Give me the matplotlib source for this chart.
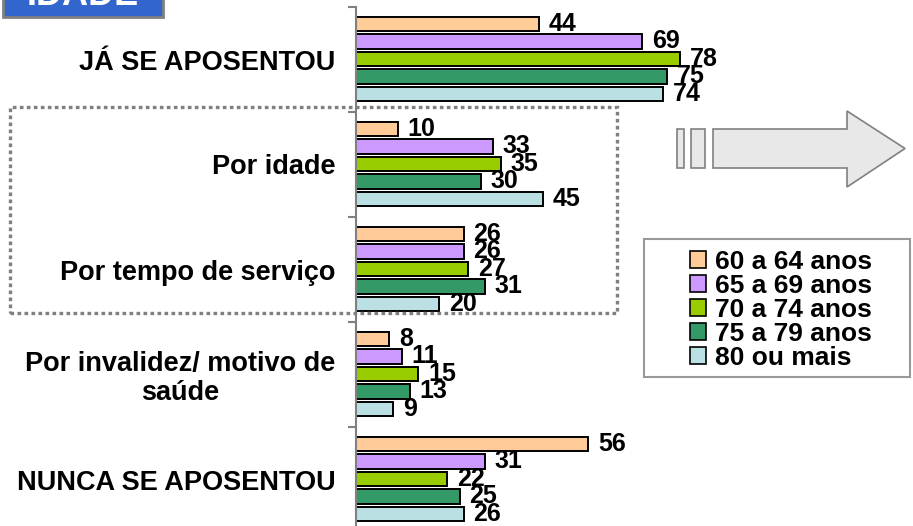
import numpy as np
import matplotlib
matplotlib.use("Agg")
import matplotlib.pyplot as plt
from matplotlib.patches import Rectangle, Polygon, Patch

plt.rcParams['font.family'] = ['Liberation Sans', 'DejaVu Sans']
plt.rcParams['font.weight'] = 'bold'

# categories (top to bottom) and age groups
categorias = ['JÁ SE APOSENTOU', 'Por idade', 'Por tempo de serviço',
              'Por invalidez/ motivo de\nsaúde', 'NUNCA SE APOSENTOU']
faixas = ['60 a 64 anos', '65 a 69 anos', '70 a 74 anos', '75 a 79 anos', '80 ou mais']
cores = ['#FFCC99', '#CC99FF', '#99CC00', '#339966', '#BBE0E3']

s60 = [44, 10, 26, 8, 56]
s65 = [69, 33, 26, 11, 31]
s70 = [78, 35, 27, 15, 22]
s75 = [75, 30, 31, 13, 25]
s80 = [74, 45, 20, 9, 26]
series = [s60, s65, s70, s75, s80]

W, H = 913, 526
fig = plt.figure(figsize=(W / 100, H / 100), dpi=100)

# axes: zero line at x=356px, 100 units = 415px; top at 7px, 5 groups of 105px
ax = fig.add_axes([356 / W, 1 - 532 / H, 415 / W, 525 / H])
ax.set_xlim(0, 100)
ax.set_ylim(5, 0)

y = np.arange(len(categorias))
passo = 0.1667
for k, (vals, cor) in enumerate(zip(series, cores)):
    yy = y + 0.495 + (k - 2) * passo
    ax.barh(yy, vals, height=0.135, color=cor, edgecolor='black', linewidth=1.4)
    for yi, v in zip(yy, vals):
        ax.annotate(str(v), (v, yi), xytext=(7, 0), textcoords='offset points',
                    ha='left', va='center', fontsize=18, fontweight='bold')

for s in ['top', 'right', 'bottom']:
    ax.spines[s].set_visible(False)
ax.spines['left'].set_color('#808080')
ax.spines['left'].set_linewidth(1.5)
ax.set_xticks([])
ax.set_yticks(y + 0.5)
ax.set_yticklabels(categorias, fontsize=19.5, fontweight='bold', multialignment='center',
                   linespacing=1.15)
ax.tick_params(axis='y', which='major', length=0, pad=15)
ax.set_yticks(np.arange(0, 6), minor=True)
ax.tick_params(axis='y', which='minor', length=6, width=1.5, color='#808080', direction='out')

# dotted box around "Por idade" / "Por tempo de serviço"
fig.patches.append(Rectangle((10 / W, 1 - 313 / H), 607 / W, 206 / H, transform=fig.transFigure,
                             fill=False, edgecolor='#808080', linewidth=2.4,
                             linestyle=(0, (1.1, 1.0)), zorder=0))

# arrow
def px(x, yp):
    return (x / W, 1 - yp / H)

seta = [px(713, 129), px(847, 129), px(847, 111), px(905, 148.5),
        px(847, 187), px(847, 168), px(713, 168)]
fig.patches.append(Polygon(seta, closed=True, transform=fig.transFigure,
                           facecolor='#E8E8E8', edgecolor='#808080', linewidth=1.2))
for x0, x1 in [(677, 684), (691, 705)]:
    fig.patches.append(Rectangle(px(x0, 168), (x1 - x0) / W, 39 / H, transform=fig.transFigure,
                                 facecolor='#E8E8E8', edgecolor='#808080', linewidth=1.2))

# legend frame and legend
fig.patches.append(Rectangle(px(644, 377), 266 / W, 138 / H, transform=fig.transFigure,
                             facecolor='white', edgecolor='#999999', linewidth=1.5))
handles = [Patch(facecolor=c, edgecolor='black', linewidth=1.2) for c in cores]
fig.legend(handles, faixas, loc='center', bbox_to_anchor=px(781, 310), frameon=False,
           prop={'size': 19, 'weight': 'bold'}, handlelength=0.6, handleheight=0.6,
           handletextpad=0.35, labelspacing=0.0, borderpad=0)

# "IDADE" title box cut at the top
fig.patches.append(Rectangle(px(3, 17), 160 / W, 40 / H, transform=fig.transFigure,
                             facecolor='#3366CC', edgecolor='#808080', linewidth=2))
fig.text(83 / W, 1 - 5 / H, 'IDADE', ha='center', va='baseline', color='white',
         fontsize=26, fontweight='bold')

fig.savefig('out.png', dpi=100)
